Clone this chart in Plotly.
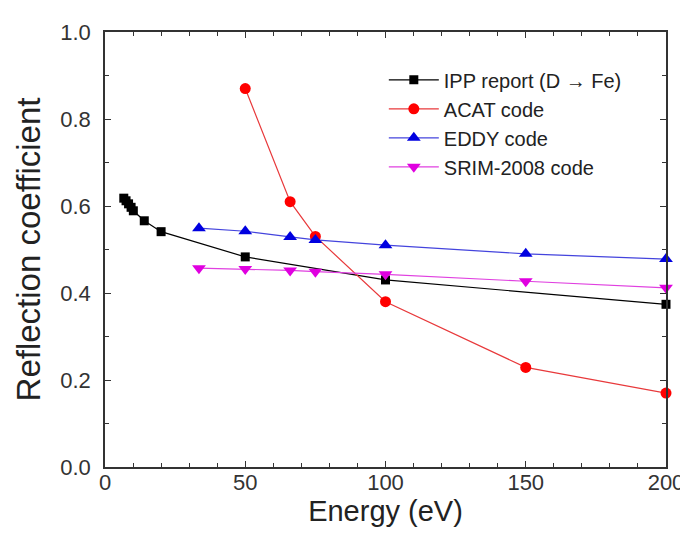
import plotly.graph_objects as go

ipp_x = [6.7, 7.5, 8.4, 9.3, 10.1, 14, 20, 50, 100, 200]
ipp_y = [0.618, 0.612, 0.605, 0.597, 0.589, 0.566, 0.541, 0.483, 0.43, 0.374]
acat_x = [50, 66, 75, 100, 150, 200]
acat_y = [0.87, 0.61, 0.53, 0.38, 0.229, 0.17]
eddy_x = [33.5, 50, 66, 75, 100, 150, 200]
eddy_y = [0.549, 0.542, 0.529, 0.522, 0.51, 0.49, 0.478]
srim_x = [33.5, 50, 66, 75, 100, 150, 200]
srim_y = [0.457, 0.455, 0.452, 0.449, 0.443, 0.427, 0.412]

series = [
    ("IPP report (D \u2192 Fe)", ipp_x, ipp_y, "black", "black", "square", 9),
    ("ACAT code", acat_x, acat_y, "#e8393b", "#ff0000", "circle", 11),
    ("EDDY code", eddy_x, eddy_y, "#4444dd", "#0000e0", "triangle-up", 12),
    ("SRIM-2008 code", srim_x, srim_y, "#e040e0", "#e000e0", "triangle-down", 12),
]

fig = go.Figure()
for name, xs, ys, lc, mc, sym, sz in series:
    fig.add_trace(go.Scatter(
        x=xs, y=ys, name=name, mode="lines+markers",
        line=dict(color=lc, width=1.2),
        marker=dict(color=mc, symbol=sym, size=sz, line=dict(width=0)),
        cliponaxis=False,
    ))

axis_common = dict(
    showline=True, linecolor="#333333", linewidth=1.5, mirror="ticks",
    ticks="inside", ticklen=6, tickwidth=1.2, tickcolor="#333333",
    showgrid=False, zeroline=False,
    tickfont=dict(family="Liberation Sans, Arial", size=22, color="#333333"),
)

fig.update_layout(
    width=688, height=534,
    margin=dict(l=97, r=25, t=24, b=75),
    paper_bgcolor="white", plot_bgcolor="white",
    font=dict(family="Liberation Sans, Arial", color="#222222"),
    xaxis=dict(range=[0, 200], tickvals=[0, 50, 100, 150, 200],
               ticklabelstandoff=-5,
               minor=dict(dtick=10, ticks="inside", ticklen=4, tickcolor="#333333", showgrid=False),
               title=dict(text="Energy (eV)", font=dict(size=29), standoff=2),
               **axis_common),
    yaxis=dict(range=[0, 1.0], tickvals=[0, 0.2, 0.4, 0.6, 0.8, 1.0], tickformat=".1f",
               ticklabelstandoff=8,
               minor=dict(dtick=0.1, ticks="inside", ticklen=4, tickcolor="#333333", showgrid=False),
               title=dict(text="Reflection coefficient", font=dict(size=33), standoff=10),
               **axis_common),
    legend=dict(x=0.497, y=0.935, xanchor="left", yanchor="top",
                bgcolor="rgba(0,0,0,0)", borderwidth=0,
                font=dict(size=20, color="#222222"), tracegroupgap=0,
                itemwidth=50),
    showlegend=True,
)

fig.write_html("out.html")
